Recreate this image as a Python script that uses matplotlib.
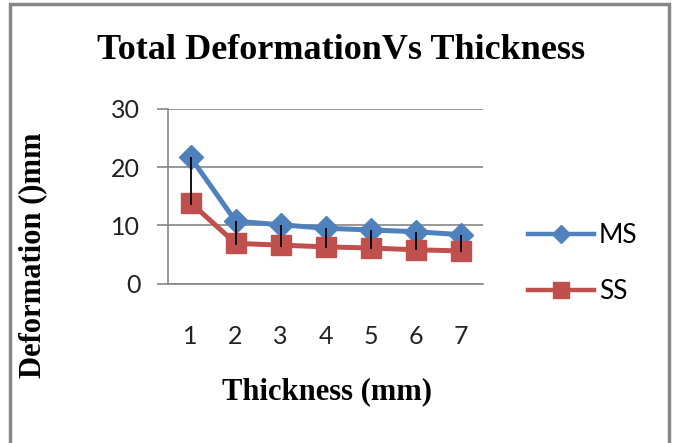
import matplotlib.pyplot as plt
from matplotlib.lines import Line2D
from matplotlib.patches import Rectangle

# data
thickness = [1, 2, 3, 4, 5, 6, 7]
ms = [21.7, 10.7, 10.1, 9.5, 9.2, 8.9, 8.4]
ss = [13.9, 6.9, 6.6, 6.3, 6.1, 5.8, 5.6]
# black bars hang down from MS points
bar_low = [13.5, 6.6, 6.3, 6.1, 6.0, 5.7, 5.5]

blue = '#4F81BD'
red = '#C0504D'
serif = 'Liberation Serif'
sans = 'Lato'

fig = plt.figure(figsize=(6.75, 4.43), dpi=100)
ax = fig.add_axes([0.249, 0.360, 0.467, 0.394])

ax.plot(thickness, ms, color=blue, lw=3.6, marker='D', ms=12, zorder=3)
ax.plot(thickness, ss, color=red, lw=3.6, marker='s', ms=15, zorder=4)
err_low = [m - b for m, b in zip(ms, bar_low)]
ax.errorbar(thickness, ms, yerr=[err_low, [0] * 7], fmt='none',
            ecolor='black', elinewidth=1.3, capsize=0, zorder=5)

ax.set_xlim(0.5, 7.5)
ax.set_ylim(0, 30)
ax.set_yticks([0, 10, 20, 30])
ax.set_xticks(thickness)
ax.yaxis.grid(True, color='#868686', lw=1.2)
ax.set_axisbelow(True)
for s in ['top', 'right']:
    ax.spines[s].set_visible(False)
for s in ['left', 'bottom']:
    ax.spines[s].set_color('#868686')
    ax.spines[s].set_linewidth(1.2)
ax.tick_params(axis='y', length=8, width=1.2, color='#868686', pad=12,
               labelsize=18, labelcolor='#222222')
ax.tick_params(axis='x', length=0, pad=30, labelsize=18, labelcolor='#222222')
for t in ax.get_xticklabels() + ax.get_yticklabels():
    t.set_family(sans)

fig.text(0.505, 0.885, 'Total DeformationVs Thickness', ha='center', va='center',
         family=serif, weight='bold', fontsize=26)
fig.text(0.048, 0.424, 'Deformation ()mm', ha='center', va='center', rotation=90,
         family=serif, weight='bold', fontsize=22)
fig.text(0.485, 0.115, 'Thickness (mm)', ha='center', va='center',
         family=serif, weight='bold', fontsize=22)

handles = [Line2D([], [], color=blue, lw=3.2, marker='D', ms=9),
           Line2D([], [], color=red, lw=3.2, marker='s', ms=11)]
fig.legend(handles, ['MS', 'SS'], loc='center left', bbox_to_anchor=(0.782, 0.405),
           frameon=False, handlelength=2.5, handletextpad=0.2, labelspacing=1.2,
           borderpad=0, borderaxespad=0, prop={'family': sans, 'size': 19})

fig.patches.append(Rectangle((0.015, -0.05), 0.976, 1.04, transform=fig.transFigure,
                             fill=False, edgecolor='#868686', lw=2.5))

fig.savefig('out.png', dpi=100)
